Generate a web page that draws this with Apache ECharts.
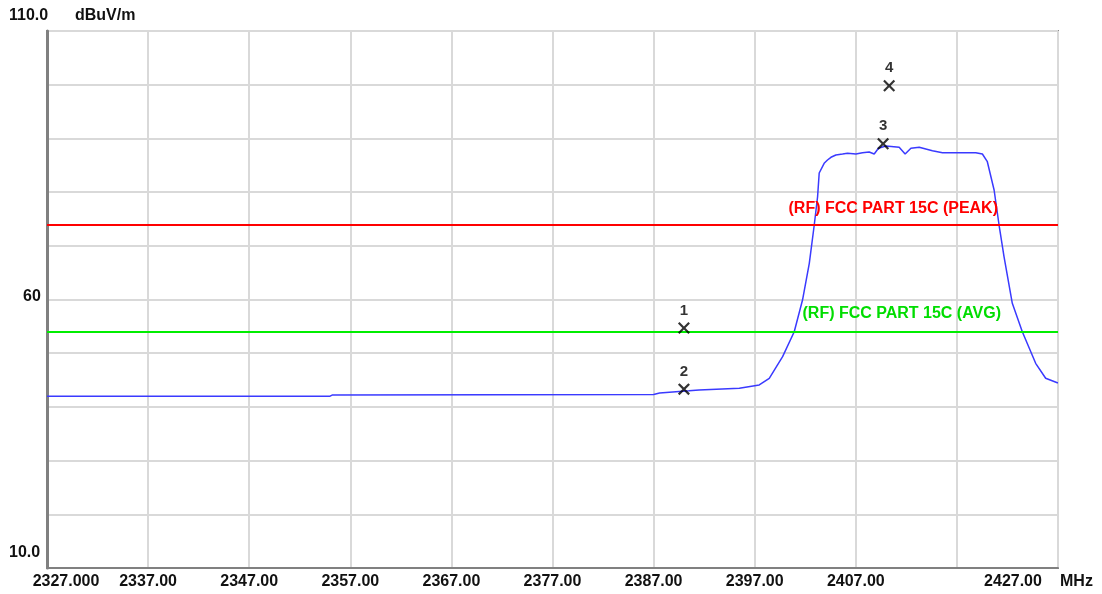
<!DOCTYPE html>
<html>
<head>
<meta charset="utf-8">
<script src="https://cdn.jsdelivr.net/npm/echarts@6/dist/echarts.min.js"></script>
<style>
  html, body { margin: 0; padding: 0; background: #fff; }
  #chart { width: 1102px; height: 594px; }
</style>
</head>
<body>
<div id="chart"></div>
<script>
// trace (MHz, dBuV/m)
const freq = [2327, 2355.0, 2355.2, 2387.0, 2387.6, 2390.5, 2391.5, 2395.48, 2397.45, 2398.44,
  2399.76, 2400.91, 2401.73, 2402.40, 2402.89, 2403.22, 2403.38, 2403.87, 2404.20, 2404.54,
  2405.03, 2405.69, 2406.18, 2407.01, 2407.66, 2408.32, 2408.82, 2409.24, 2409.97, 2411.29,
  2411.88, 2412.45, 2413.27, 2414.58, 2415.57, 2417.22, 2418.87, 2419.52, 2420.01, 2420.68,
  2421.17, 2421.66, 2422.48, 2423.47, 2424.79, 2425.78, 2426.93, 2427];
const level = [42.0, 42.0, 42.2, 42.3, 42.6, 43.0, 43.15, 43.46, 44.08, 45.33,
  49.35, 54.0, 59.9, 66.74, 73.87, 79.14, 83.56, 85.36, 85.98, 86.48,
  86.91, 87.09, 87.23, 87.09, 87.34, 87.47, 87.09, 88.16, 88.59, 88.34,
  87.09, 88.16, 88.34, 87.71, 87.34, 87.34, 87.34, 87.09, 85.66, 80.39,
  73.87, 67.97, 59.29, 54.0, 48.12, 45.33, 44.5, 44.5];

// markers
const markerNames = ['1', '2', '3', '4'];
const markerFreq = [2390.0, 2390.0, 2409.7, 2410.3];
const markerLevel = [54.7, 43.3, 89.0, 99.8];

// limits
const limitPeak = 74;
const limitAvg = 54;
const limitPeakName = '(RF) FCC PART 15C (PEAK)';
const limitAvgName = '(RF) FCC PART 15C (AVG)';

// axis labels
const xTickLabels = ['2327.000', '2337.00', '2347.00', '2357.00', '2367.00', '2377.00',
  '2387.00', '2397.00', '2407.00', '', '2427.00'];
const yTickLabels = { 10: '10.0', 60: '60', 110: '110.0' };

const FONT = 'Liberation Sans, Arial, sans-serif';
const TXT = '#111';

var chart = echarts.init(document.getElementById('chart'));

var option = {
  backgroundColor: '#fff',
  animation: false,
  grid: {
    left: 47, top: 31, right: 44, bottom: 26,
    show: true, borderColor: '#8c8c8c', borderWidth: 2
  },
  xAxis: {
    type: 'value',
    min: 2327, max: 2427, interval: 10,
    name: 'MHz',
    nameLocation: 'end',
    nameGap: 2,
    nameTextStyle: {
      fontFamily: FONT, fontWeight: 'bold', fontSize: 16, color: TXT,
      align: 'left', verticalAlign: 'top', padding: [6, 0, 0, 0]
    },
    axisLine: { show: true, lineStyle: { color: '#808080', width: 2 } },
    axisTick: { show: false },
    splitLine: { show: true, lineStyle: { color: '#d9d9d9', width: 2 } },
    axisLabel: {
      interval: 0, showMinLabel: true, showMaxLabel: true,
      margin: 6,
      fontFamily: FONT, fontWeight: 'bold', fontSize: 16, color: TXT,
      formatter: function (v) {
        var i = Math.round((v - 2327) / 10);
        var t = xTickLabels[i] || '';
        if (i === 0) return '{first|' + t + '}';
        if (i === 10) return '{last|' + t + '}';
        return t;
      },
      rich: {
        first: { fontFamily: FONT, fontWeight: 'bold', fontSize: 16, color: TXT, padding: [0, 0, 0, 38] },
        last: { fontFamily: FONT, fontWeight: 'bold', fontSize: 16, color: TXT, padding: [0, 90, 0, 0] }
      }
    }
  },
  yAxis: {
    type: 'value',
    min: 10, max: 110, interval: 10,
    name: 'dBuV/m',
    nameLocation: 'end',
    nameGap: 15,
    nameTextStyle: {
      fontFamily: FONT, fontWeight: 'bold', fontSize: 16, color: TXT,
      align: 'left', verticalAlign: 'middle', padding: [0, 0, 0, 28]
    },
    axisLine: { show: true, lineStyle: { color: '#808080', width: 3 } },
    axisTick: { show: false },
    splitLine: { show: true, lineStyle: { color: '#d9d9d9', width: 2 } },
    axisLabel: {
      showMinLabel: true, showMaxLabel: true,
      align: 'left', margin: 38,
      fontFamily: FONT, fontWeight: 'bold', fontSize: 16, color: TXT,
      formatter: function (v) {
        var t = yTickLabels[v];
        if (!t) return '';
        if (v === 60) return '{mid|' + t + '}';
        return '{edge|' + t + '}';
      },
      rich: {
        edge: { fontFamily: FONT, fontWeight: 'bold', fontSize: 16, color: TXT, padding: [0, 0, 30, 0] },
        mid: { fontFamily: FONT, fontWeight: 'bold', fontSize: 16, color: TXT, padding: [0, 0, 6, 14] }
      }
    }
  },
  series: [
    {
      name: 'limits',
      type: 'line',
      data: [],
      markLine: {
        silent: true,
        symbol: 'none',
        data: [
          {
            yAxis: limitPeak,
            lineStyle: { color: '#ff0000', width: 2, type: 'solid' },
            label: {
              position: 'insideEndTop', formatter: limitPeakName, distance: 8,
              color: '#ff0000', fontFamily: FONT, fontWeight: 'bold', fontSize: 16,
              padding: [0, 52, 0, 0]
            }
          },
          {
            yAxis: limitAvg,
            lineStyle: { color: '#00ee00', width: 2, type: 'solid' },
            label: {
              position: 'insideEndTop', formatter: limitAvgName, distance: 10,
              color: '#00dd00', fontFamily: FONT, fontWeight: 'bold', fontSize: 16,
              padding: [0, 47, 0, 0]
            }
          }
        ]
      }
    },
    {
      name: 'trace',
      type: 'line',
      symbol: 'none',
      lineStyle: { color: '#3a3aff', width: 1.5 },
      data: freq.map(function (f, i) { return [f, level[i]]; }),
      z: 3
    },
    {
      name: 'markers',
      type: 'scatter',
      symbol: 'path://M0,1.3 L1.3,0 L5,3.7 L8.7,0 L10,1.3 L6.3,5 L10,8.7 L8.7,10 L5,6.3 L1.3,10 L0,8.7 L3.7,5 Z',
      symbolSize: 12,
      itemStyle: { color: '#000' },
      label: {
        show: true, position: 'top', distance: 4,
        fontFamily: FONT, fontWeight: 'bold', fontSize: 15, color: '#000',
        formatter: function (p) { return markerNames[p.dataIndex]; }
      },
      data: markerFreq.map(function (f, i) { return [f, markerLevel[i]]; }),
      z: 5
    }
  ]
};

chart.setOption(option);
</script>
</body>
</html>
